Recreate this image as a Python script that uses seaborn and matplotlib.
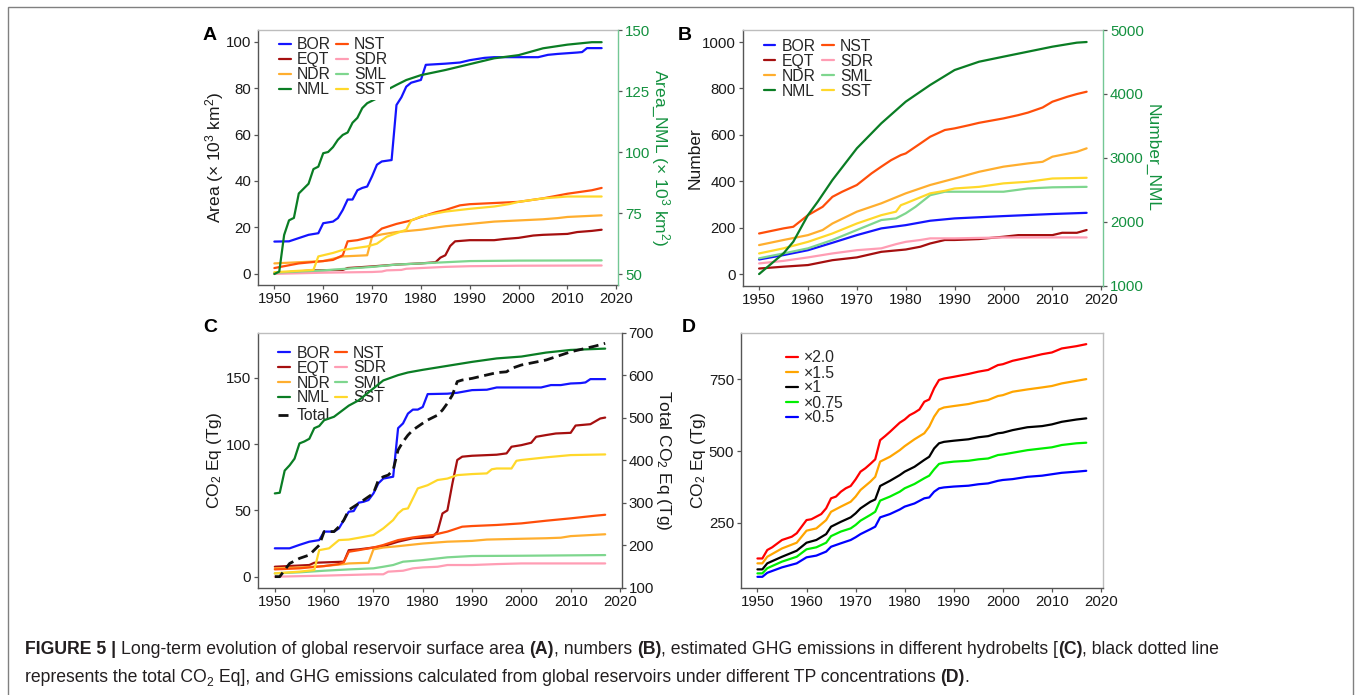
import matplotlib
matplotlib.use("Agg")
import math
import matplotlib.pyplot as plt
import seaborn as sns
import numpy as np
import pandas as pd
from matplotlib.patches import Rectangle

# ---------------- DATA ----------------
belts = ['BOR', 'EQT', 'NDR', 'NML', 'NST', 'SDR', 'SML', 'SST']
belt_colors = {'BOR': '#1414FF', 'EQT': '#A50F0F', 'NDR': '#FFAE2E', 'NML': '#0A7D24',
               'NST': '#FF4E0A', 'SDR': '#FF9DB4', 'SML': '#7ED68E', 'SST': '#FFD82A'}

# Panel A: area (x10^3 km^2); NML on secondary axis
A_years = {
    'BOR': [1950,1953,1955,1957,1959,1960,1962,1963,1964,1965,1966,1967,1968,1969,1970,1971,1972,1974,1975,1976,1977,1978,1980,1981,1985,1988,1990,1993,1995,2004,2006,2008,2010,2012,2013,2014,2017],
    'EQT': [1950,1958,1964,1965,1970,1975,1980,1983,1984,1985,1986,1987,1990,1995,1997,2000,2003,2005,2010,2012,2015,2017],
    'NDR': [1950,1955,1960,1964,1969,1970,1972,1975,1980,1985,1990,1995,2000,2005,2008,2010,2017],
    'NML': [1950,1951,1952,1953,1954,1955,1956,1957,1958,1959,1960,1961,1962,1963,1964,1965,1966,1967,1968,1969,1970,1971,1972,1973,1975,1977,1980,1985,1990,1995,2000,2005,2010,2015,2017],
    'NST': [1950,1955,1960,1962,1964,1965,1967,1970,1972,1975,1978,1980,1983,1985,1988,1990,1995,2000,2005,2010,2015,2017],
    'SDR': [1950,1960,1970,1972,1973,1976,1977,1980,1985,1990,2000,2017],
    'SML': [1950,1960,1970,1975,1980,1985,1990,2000,2017],
    'SST': [1950,1958,1959,1962,1964,1969,1971,1973,1975,1977,1978,1980,1983,1985,1990,1995,1998,2000,2005,2010,2017],
}
A_values = {
    'BOR': [13.9,14,15.4,16.8,17.5,21.8,22.5,24,27.5,32,32,36,37,37.6,42,47,48.4,49,72.7,76,80.6,82.3,83.5,90,90.5,91,92,93,93.3,93.3,94.3,94.7,95,95.3,95.5,97.2,97.2],
    'EQT': [0.3,1.5,1.7,2.5,3.2,4,4.5,5,7,8,12,14,14.5,14.5,15,15.5,16.5,16.8,17.2,18,18.5,19],
    'NDR': [4.5,5,5.5,7.5,8,16,17,18,19,20.5,21.5,22.5,23,23.5,24,24.5,25.2],
    'NML': [50,51,66,72,73,83,85,87,93,94,99.5,100,102,105,107,108,112,114,118,120,121,122,123.5,125.4,127.5,129.5,131.5,133.6,136,138.4,139.7,142.5,144,145,145],
    'NST': [2.5,4.5,5.5,6,8,14,14.5,16,19.5,21.5,23,24.5,26.5,27.5,29.5,30,30.5,31,32.5,34.5,36,37],
    'SDR': [0,0.5,0.8,1,1.5,1.7,2.2,2.5,3,3.3,3.5,3.6],
    'SML': [0.5,1.5,3,4,4.5,5,5.5,5.7,5.8],
    'SST': [0.7,1.7,7.5,9,10.3,11.8,13,16,17.5,19,23,24.7,26,26.8,28,29,30,31,32.5,33.3,33.3],
}

# Panel B: number of reservoirs; NML on secondary axis
B_years = {
    'BOR': [1950,1955,1960,1965,1970,1975,1980,1985,1990,2000,2010,2017],
    'EQT': [1950,1955,1960,1965,1970,1975,1980,1983,1985,1988,1990,1995,2000,2003,2010,2012,2015,2017],
    'NDR': [1950,1955,1960,1963,1965,1970,1975,1980,1985,1990,1995,2000,2005,2008,2010,2015,2017],
    'NML': [1950,1955,1957,1960,1962,1965,1970,1975,1980,1985,1990,1995,2000,2005,2010,2015,2017],
    'NST': [1950,1955,1957,1960,1963,1965,1967,1970,1973,1975,1977,1979,1980,1983,1985,1988,1990,1993,1995,2000,2003,2005,2008,2010,2013,2015,2017],
    'SDR': [1950,1955,1960,1965,1970,1975,1978,1980,1983,1985,1990,2000,2017],
    'SML': [1950,1955,1960,1965,1970,1975,1978,1980,1982,1985,1988,2000,2005,2010,2017],
    'SST': [1950,1955,1960,1965,1970,1975,1978,1979,1980,1985,1988,1990,1995,2000,2005,2010,2017],
}
B_values = {
    'BOR': [63,82,103,135,168,197,211,230,240,250,259,264],
    'EQT': [24,32,39,60,72,96,106,118,132,147,147,151,161,168,168,178,178,190],
    'NDR': [125,147,168,190,218,269,305,348,384,412,441,463,477,484,506,527,542],
    'NML': [1182,1506,1688,2105,2314,2653,3149,3540,3879,4140,4374,4504,4583,4661,4739,4802,4812],
    'NST': [175,197,204,254,290,333,355,384,434,463,491,513,520,563,592,621,628,642,652,671,685,696,718,743,764,776,786],
    'SDR': [46,57,72,89,103,111,129,139,147,154,154,158,158],
    'SML': [68,89,111,147,190,233,240,262,290,340,355,355,369,374,376],
    'SST': [89,111,139,175,218,254,269,297,305,348,359,369,376,391,398,412,415],
}

# Panel C: CO2 Eq (Tg) by hydrobelt; Total on secondary axis
C_years = {
    'BOR': [1950,1953,1955,1957,1959,1960,1962,1963,1964,1965,1966,1967,1968,1969,1970,1971,1972,1974,1975,1976,1977,1978,1979,1980,1981,1985,1987,1990,1993,1995,2004,2006,2008,2010,2012,2013,2014,2017],
    'EQT': [1950,1957,1958,1964,1965,1967,1970,1972,1975,1978,1980,1982,1983,1984,1985,1986,1987,1988,1990,1995,1997,1998,2000,2002,2003,2005,2007,2010,2011,2014,2016,2017],
    'NDR': [1950,1955,1960,1964,1965,1969,1970,1972,1975,1980,1985,1990,1993,2000,2005,2008,2010,2017],
    'NML': [1950,1951,1952,1953,1954,1955,1956,1957,1958,1959,1960,1962,1965,1967,1970,1972,1975,1977,1980,1985,1990,1995,2000,2005,2010,2017],
    'NST': [1950,1955,1960,1963,1964,1965,1967,1970,1972,1975,1978,1980,1982,1985,1988,1990,1995,2000,2005,2010,2015,2017],
    'SDR': [1950,1960,1970,1972,1973,1976,1978,1980,1983,1985,1990,1995,2000,2017],
    'SML': [1950,1955,1960,1965,1970,1972,1974,1976,1980,1985,1990,2000,2017],
    'SST': [1950,1955,1958,1959,1961,1963,1965,1968,1970,1972,1974,1975,1976,1977,1978,1979,1980,1981,1983,1985,1987,1990,1993,1994,1995,1998,1999,2000,2005,2010,2017],
}
C_values = {
    'BOR': [21.4,21.4,24,26.4,27.6,34,34,36.4,42.7,49,49.5,55.8,56.5,57.8,62.8,70.4,74,75.4,112,115.6,123,126,126,128,137.7,138,138.7,140.7,141,142.7,142.7,144.5,144.5,145.7,146,146.5,149,149],
    'EQT': [7.5,8.8,10.5,11.3,20,20.6,22,23,26.4,29,29.4,30,34,47.7,50,70,88,90.5,91.2,92,93,98,99.2,101,105.5,106.8,108,108.5,114,115,119.3,120],
    'NDR': [6.3,7,8,9.5,10,10.5,20.6,22,23,25,26.4,27,28,28.6,29,29.4,30.6,32],
    'NML': [62.8,63.3,80,84,89,100.5,102,104,112,113.6,118,120.6,129,133,142,148,152,154,156,159,162,164.6,166,169,171,172],
    'NST': [5.5,6.3,8,9.5,11,18.8,20,22,23.9,27.6,29.6,30.6,31.4,34,37.7,38.2,39,40.2,42.2,44,46,46.7],
    'SDR': [0,0.8,1.8,1.8,3.8,4.5,6.3,7,7.5,8.8,8.8,9.5,10,10],
    'SML': [2.5,3.3,4.5,5.5,6.3,7.5,8.8,11.3,12.5,14.6,15.6,15.8,16.3],
    'SST': [2.5,3.8,5,20,21.4,27.6,28,30,31.4,36.4,42.7,47.7,50.8,51.5,59,66.6,67.8,69,72.9,74,76.6,77.4,77.9,81,81.6,81.6,87.4,88,90,91.7,92.2],
}
C_total_years = [1950,1951,1952,1953,1955,1957,1958,1959,1960,1962,1963,1964,1965,1967,1969,1970,1971,1972,1973,1974,1975,1976,1977,1978,1979,1980,1981,1983,1984,1985,1986,1987,1988,1990,1995,1997,1998,2000,2005,2010,2015,2017]
C_total = [126,126,141.6,157,169,177,188.6,200,232,232,243.5,259,283,298,314,322,353,361,365,377,424,443.5,459,471,479,487,494.5,506,518,534,553,585,588.6,592.5,606,608,616,624,635.7,655,668.6,675]

# Panel D: CO2 Eq (Tg) under TP scenarios
D_labels = ['×2.0', '×1.5', '×1', '×0.75', '×0.5']
D_colors = ['#FF0000', '#FFA500', '#000000', '#00EE00', '#0000FF']
D_years_hi = [1950,1951,1952,1953,1955,1957,1958,1960,1961,1963,1964,1965,1966,1967,1968,1969,1970,1971,1972,1973,1974,1975,1976,1977,1978,1979,1980,1981,1982,1983,1984,1985,1986,1987,1988,1990,1993,1995,1997,1999,2000,2002,2005,2008,2010,2012,2015,2017]
D_x2_0 = [125,125,154.5,164,189.5,201,213,259,262,280,300,335,341,358,370,378,401,428,440,455,471,538,552,567,583,599,610,625,634,645,672,680,719,748,753,759,769,777,783,800,803,815,826,838,844,858,866,873]
D_years = [1950,1951,1952,1955,1958,1960,1962,1964,1965,1967,1969,1970,1971,1973,1974,1975,1977,1979,1980,1982,1984,1985,1986,1987,1988,1990,1993,1995,1997,1999,2000,2002,2005,2008,2010,2012,2015,2017]
D_x1_5 = [108,108,131,160,180,222,230,259,288,306,323,341,364,393,410,463,480,503,517,541,562,585,620,645,652,657,664,672,678,692,695,707,715,722,727,736,745,751]
D_x1 = [87,87,108,131,152,180,189.5,210,236,253,268.5,282.5,300,323,331,378,396,416,428,445,469,480,509,527,532,536,541,548,552,562,564,573,583,587,593,602,610,614]
D_x0_75 = [73,73,91,114,131,157,164,180,203,219,230,242,257,277,288,327,341,358,370,385,405,414,436,455,459,463,466,471,474,486,488,494,503,509,513,521,527,529]
D_x0_5 = [61,61,75,94,108,129,135,149,166,178,189.5,199,210,227,236,268.5,280,296,306,317,335,338,358,370,373,376,379,384,387,396,399,402,410,414,419,424,428,431]

x_ticks = [1950, 1960, 1970, 1980, 1990, 2000, 2010, 2020]

caption_line1 = [('FIGURE 5 | ', 'b'), ('Long-term evolution of global reservoir surface area ', 'n'),
                 ('(A)', 'b'), (', numbers ', 'n'), ('(B)', 'b'),
                 (', estimated GHG emissions in different hydrobelts [', 'n'), ('(C)', 'b'),
                 (', black dotted line', 'n')]
caption_line2 = [('represents the total CO', 'n'), ('2', 'sub'),
                 (' Eq], and GHG emissions calculated from global reservoirs under different TP concentrations ', 'n'),
                 ('(D)', 'b'), ('.', 'n')]

# ---------------- STYLE ----------------
sns.set_theme(style="white")
plt.rcParams['font.family'] = ['Liberation Sans', 'DejaVu Sans']
plt.rcParams['mathtext.fontset'] = 'custom'
plt.rcParams['mathtext.rm'] = 'Liberation Sans'
plt.rcParams['mathtext.it'] = 'Liberation Sans:italic'
plt.rcParams['mathtext.bf'] = 'Liberation Sans:bold'

W, H = 1356, 695
fig = plt.figure(figsize=(W / 100, H / 100), dpi=100)
fig.patch.set_facecolor('white')
renderer = fig.canvas.get_renderer()

DARK = '#555555'
LIGHT = '#BDBDBD'
GREEN_TXT = '#13913F'
GREEN_SPINE = '#74C795'
TICK_FS = 10.8
LAB_FS = 12.5
LEG_FS = 11.3
LEG_PX = LEG_FS * 100 / 72.0


def add_ax(l, r, t, b):
    return fig.add_axes([l / W, 1 - b / H, (r - l) / W, (b - t) / H])


def style(ax, right_color=LIGHT):
    ax.set_facecolor('white')
    for s in ['left', 'bottom']:
        ax.spines[s].set_color(DARK)
        ax.spines[s].set_linewidth(1.0)
    ax.spines['top'].set_color(LIGHT)
    ax.spines['top'].set_linewidth(1.0)
    ax.spines['right'].set_color(right_color)
    ax.spines['right'].set_linewidth(1.0)
    ax.tick_params(axis='both', which='both', bottom=True, left=True, top=False, right=False,
                   direction='out', length=3, width=0.9, color=DARK,
                   labelsize=TICK_FS, labelcolor='#1a1a1a', pad=2)
    ax.set_xlim(1946.65, 2020.35)
    ax.set_xticks(x_ticks)
    ax.set_xlabel('')
    ax.grid(False)


def draw(ax, x, y, color, lw=1.6, **kw):
    sns.lineplot(x=x, y=y, ax=ax, color=color, linewidth=lw, legend=False,
                 errorbar=None, **kw)
    return ax.get_lines()[-1]


def make_twin(ax, spine_color, label_color):
    ax2 = ax.twinx()
    for s in ['left', 'top', 'bottom']:
        ax2.spines[s].set_visible(False)
    ax2.spines['right'].set_color(spine_color)
    ax2.spines['right'].set_linewidth(1.0)
    ax2.tick_params(axis='y', right=True, left=False, direction='out', length=3,
                    width=0.9, color=DARK, labelsize=TICK_FS, labelcolor=label_color, pad=2)
    ax2.grid(False)
    return ax2


def ylab(ax, text, xpix, left, width, color='#1a1a1a', rot=90):
    ax.set_ylabel(text, fontsize=LAB_FS, color=color, rotation=rot)
    ax.yaxis.set_label_coords((xpix - left) / width, 0.5)
    ax.yaxis.label.set_va('center')
    ax.yaxis.label.set_ha('center')


def fit_legend(host, anchor_ax, handles, labels, ncol, text_x, row1_y, pitch=15.0,
               col2_text_x=None, frame=False, zorder=5):
    """Create a legend whose first label starts at text_x (px) and whose rows are
    centred at row1_y + k*pitch (px from the top of the figure)."""
    params = dict(fontsize=LEG_FS, handlelength=0.75, handletextpad=0.4,
                  columnspacing=0.5, labelspacing=0.0, borderpad=0.2,
                  borderaxespad=0, fancybox=False)
    bx, by = 0.05, 0.95
    apos = anchor_ax.get_position()
    aw, ah = apos.width * W, apos.height * H
    nrows = int(math.ceil(len(labels) / float(ncol)))
    leg = None
    for it in range(4):
        if leg is not None:
            leg.remove()
        leg = host.legend(handles, labels, ncol=ncol, loc='upper left',
                          bbox_to_anchor=(bx, by), bbox_transform=anchor_ax.transAxes,
                          frameon=frame, facecolor='white', edgecolor='none',
                          framealpha=1, **params)
        leg.set_zorder(zorder)
        fig.canvas.draw()
        ext = [t.get_window_extent(renderer) for t in leg.get_texts()]
        c0 = H - (ext[0].y0 + ext[0].y1) / 2.0 - 1.3
        x0 = ext[0].x0
        if nrows > 1:
            p = (ext[0].y0 + ext[0].y1) / 2.0 - (ext[1].y0 + ext[1].y1) / 2.0
            params['labelspacing'] += (pitch - p) / LEG_PX
        if ncol > 1 and col2_text_x is not None:
            dx = ext[nrows].x0 - x0
            params['columnspacing'] += ((col2_text_x - text_x) - dx) / LEG_PX
        bx += (text_x - x0) / aw
        by -= (row1_y - c0) / ah
    leg.remove()
    leg = host.legend(handles, labels, ncol=ncol, loc='upper left',
                      bbox_to_anchor=(bx, by), bbox_transform=anchor_ax.transAxes,
                      frameon=frame, facecolor='white', edgecolor='none',
                      framealpha=1, **params)
    leg.set_zorder(zorder)
    return leg


# ---------------- PANEL A ----------------
axA = add_ax(258, 618, 30, 285)
style(axA)
axA.spines['right'].set_visible(False)
axA2 = make_twin(axA, GREEN_SPINE, GREEN_TXT)
handlesA = {}
for b in belts:
    target = axA2 if b == 'NML' else axA
    handlesA[b] = draw(target, A_years[b], A_values[b], belt_colors[b])
axA.set_ylim(-4.8, 105)
axA.set_yticks([0, 20, 40, 60, 80, 100])
axA2.set_ylim(45.5, 150)
axA2.set_yticks([50, 75, 100, 125, 150])
axA2.set_xlim(1946.65, 2020.35)
ylab(axA, 'Area (× 10$^{3}$ km$^{2}$)', 215, 258, 360)
ylab(axA2, 'Area_NML (× 10$^{3}$ km$^{2}$)', 660, 258, 360, color=GREEN_TXT, rot=270)

# ---------------- PANEL B ----------------
axB = add_ax(742.7, 1103, 30, 285.7)
style(axB)
axB.spines['right'].set_visible(False)
axB2 = make_twin(axB, GREEN_SPINE, GREEN_TXT)
handlesB = {}
for b in belts:
    target = axB2 if b == 'NML' else axB
    handlesB[b] = draw(target, B_years[b], B_values[b], belt_colors[b])
axB.set_ylim(-50, 1052)
axB.set_yticks([0, 200, 400, 600, 800, 1000])
axB2.set_ylim(1000, 5000)
axB2.set_yticks([1000, 2000, 3000, 4000, 5000])
axB2.set_xlim(1946.65, 2020.35)
ylab(axB, 'Number', 695, 742.7, 360.3)
ylab(axB2, 'Number_NML', 1151.7, 742.7, 360.3, color=GREEN_TXT, rot=270)

# ---------------- PANEL C ----------------
axC = add_ax(258.3, 621.7, 332.7, 587.7)
style(axC, right_color=DARK)
axC.spines['right'].set_visible(False)
axC2 = make_twin(axC, DARK, '#1a1a1a')
handlesC = {}
for b in belts:
    handlesC[b] = draw(axC, C_years[b], C_values[b], belt_colors[b])
tot = draw(axC2, C_total_years, C_total, '#111111', lw=2.0, linestyle=(0, (3.6, 2.0)))
axC.set_ylim(-8.3, 184)
axC.set_yticks([0, 50, 100, 150])
axC2.set_ylim(100, 700)
axC2.set_yticks([100, 200, 300, 400, 500, 600, 700])
axC2.set_xlim(1946.65, 2020.35)
ylab(axC, 'CO$_{2}$ Eq (Tg)', 215, 258.3, 363.4)
ylab(axC2, 'Total CO$_{2}$ Eq (Tg)', 663, 258.3, 363.4, rot=270)

# ---------------- PANEL D ----------------
axD = add_ax(741, 1102.7, 332.7, 587.7)
style(axD, right_color=LIGHT)
D_series = [(D_years_hi, D_x2_0), (D_years, D_x1_5), (D_years, D_x1),
            (D_years, D_x0_75), (D_years, D_x0_5)]
handlesD = []
for (yrs, vals), c in zip(D_series, D_colors):
    handlesD.append(draw(axD, yrs, vals, c))
axD.set_ylim(23, 913)
axD.set_yticks([250, 500, 750])
ylab(axD, 'CO$_{2}$ Eq (Tg)', 698, 741, 361.7)

# ---------------- LEGENDS ----------------
fit_legend(axA2, axA, [handlesA[b] for b in belts], belts, 2, text_x=297, row1_y=43.3,
           col2_text_x=354, frame=True)
fit_legend(axB2, axB, [handlesB[b] for b in belts], belts, 2, text_x=781.7, row1_y=45,
           col2_text_x=840, frame=True)
legC = fit_legend(axC, axC, [handlesC[b] for b in belts], belts, 2, text_x=296.5,
                  row1_y=351.7, col2_text_x=353, frame=False, zorder=1)
axC.add_artist(legC)
fit_legend(axC, axC, [tot], ['Total'], 1, text_x=296.5, row1_y=414.3, frame=False, zorder=1)
fit_legend(axD, axD, handlesD, D_labels, 1, text_x=804, row1_y=356.7, frame=False)

# ---------------- PANEL LETTERS ----------------
for letter, (px, py) in zip('ABCD', [(210, 35), (685, 35), (210.5, 328), (689, 328)]):
    fig.text(px / W, 1 - py / H, letter, fontsize=14, fontweight='bold',
             ha='center', va='center', color='black')

# ---------------- CAPTION ----------------
cap_family = 'Liberation Sans'


def rich_line(segs, x0, base_y, fs):
    x = x0
    arts = []
    for txt, kind in segs:
        if kind == 'sub':
            t = fig.text(x / W, 1 - (base_y + fs * 0.35) / H, txt, fontsize=fs * 0.68,
                         family=cap_family, ha='left', va='baseline', color='#231F20')
        else:
            t = fig.text(x / W, 1 - base_y / H, txt, fontsize=fs, family=cap_family,
                         fontweight='bold' if kind == 'b' else 'normal',
                         ha='left', va='baseline', color='#231F20')
        arts.append(t)
        x += t.get_window_extent(renderer).width
    return arts, x - x0


base_fs = 11.5
tmp, w1 = rich_line(caption_line1, 25, 653, base_fs)
for t in tmp:
    t.remove()
cap_fs = base_fs * 1200.0 / w1
rich_line(caption_line1, 25, 653.5, cap_fs)
rich_line(caption_line2, 25, 681.5, cap_fs)

# ---------------- FIGURE BORDER ----------------
fig.add_artist(Rectangle((8 / W, -0.05), (1353 - 8) / W, 1.05 - 7 / H,
                         transform=fig.transFigure, fill=False, edgecolor='#808080',
                         linewidth=1.0))

fig.savefig('out.png', dpi=100, facecolor='white')
